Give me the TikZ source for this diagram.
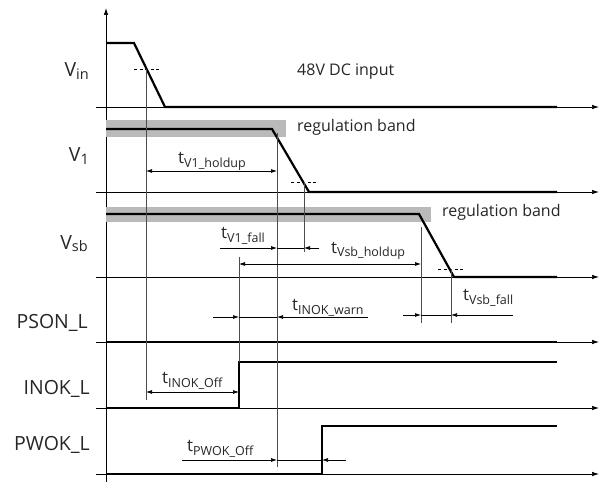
\documentclass[tikz,border=0pt]{standalone}
\usepackage{fontspec}
\setmainfont{Open Sans}
\usetikzlibrary{arrows.meta}
\newcommand\mysub[1]{\raisebox{-4pt}{\fontsize{12.5}{13}\selectfont #1}}
\newcommand\vsub[1]{\raisebox{-2.5pt}{\fontsize{14.5}{15}\selectfont #1}}
\tikzset{
  axisline/.style={line width=0.7pt, black, -{Latex[length=7pt,width=4.5pt]}},
  sig/.style={line width=2.2pt, black, line join=miter},
  guide/.style={line width=0.8pt, black!70},
  dashguide/.style={line width=0.7pt, black, dash pattern=on 3pt off 2.5pt},
  band/.style={fill=black!27, draw=none},
  dimline/.style={line width=0.7pt, black},
  tipr/.style={dimline, -{Latex[length=6pt,width=4pt]}},
  tipboth/.style={dimline, {Latex[length=6pt,width=4pt]}-{Latex[length=6pt,width=4pt]}},
  lbl/.style={anchor=base east, inner sep=0pt, text=black!85, font=\fontsize{19.5}{21}\selectfont},
  tlbl/.style={anchor=base west, inner sep=0pt, text=black!85, font=\fontsize{17}{19}\selectfont},
  note/.style={anchor=base west, inner sep=0pt, text=black!85, font=\fontsize{16}{18}\selectfont}
}
\begin{document}
\begin{tikzpicture}[x=1pt,y=-1pt]
\useasboundingbox (0,0) rectangle (603,484);
% main vertical axis
\coordinate (vbot) at (106,482);
\coordinate (vtop) at (106,8);
\draw[axisline] (vbot) -- (vtop);
% horizontal axes
\foreach \n/\y in {ain/107, aone/192, asb/277, apson/342, ainok/408, apwok/474}{
  \coordinate (\n s) at (96,\y);
  \coordinate (\n e) at (599,\y);
  \draw[axisline] (\n s) -- (\n e);
}
% regulation bands
\fill[band] (106,120) rectangle (286,137);
\fill[band] (106,207) rectangle (431,222);
% signals
\draw[sig] (106,43) -- (134,43) -- (165,107) -- (557,107);
\draw[sig] (106,129) -- (272,129) -- (309,192) -- (557,192);
\draw[sig] (106,214) -- (419,214) -- (454,277) -- (557,277);
\draw[sig] (106,342) -- (557,342);
\draw[sig] (106,408) -- (239,408) -- (239,362) -- (557,362);
\draw[sig] (106,474) -- (322,474) -- (322,426) -- (557,426);
% dashed threshold marks
\coordinate (d1a) at (134,69); \coordinate (d1b) at (159,69);
\coordinate (d2a) at (291,182); \coordinate (d2b) at (317,182);
\coordinate (d3a) at (438,269); \coordinate (d3b) at (463,269);
\draw[dashguide] (d1a) -- (d1b);
\draw[dashguide] (d2a) -- (d2b);
\draw[dashguide] (d3a) -- (d3b);
% guide lines
\coordinate (g1t) at (146,69);  \coordinate (g1b) at (146,400);
\coordinate (g2t) at (277,133); \coordinate (g2b) at (277,467);
\coordinate (g3t) at (304,182); \coordinate (g3b) at (304,252);
\coordinate (g4t) at (239,257); \coordinate (g4b) at (239,362);
\coordinate (g5t) at (421,227); \coordinate (g5b) at (421,323);
\coordinate (g6t) at (451,269); \coordinate (g6b) at (451,323);
\foreach \g in {g1,g2,g3,g4,g5,g6}{\draw[guide] (\g t) -- (\g b);}
% t_V1_holdup
\coordinate (h1a) at (146,171); \coordinate (h1b) at (277,171);
\draw[tipboth] (h1a) -- (h1b);
% t_V1_fall
\coordinate (f1a) at (220,248); \coordinate (f1b) at (277,248);
\coordinate (f1c) at (304,248); \coordinate (f1d) at (319,248);
\draw[tipr] (f1a) -- (f1b); \draw[dimline] (f1b) -- (f1c); \draw[tipr] (f1d) -- (f1c);
% t_Vsb_holdup
\coordinate (h2a) at (239,264); \coordinate (h2b) at (421,264);
\draw[tipboth] (h2a) -- (h2b);
% t_INOK_warn
\coordinate (w1a) at (213,317); \coordinate (w1b) at (239,317);
\coordinate (w1c) at (277,317); \coordinate (w1d) at (368,317);
\draw[tipr] (w1a) -- (w1b); \draw[dimline] (w1b) -- (w1c); \draw[tipr] (w1d) -- (w1c);
% t_Vsb_fall
\coordinate (f2a) at (403,315); \coordinate (f2b) at (421,315);
\coordinate (f2c) at (451,315); \coordinate (f2d) at (513,315);
\draw[tipr] (f2a) -- (f2b); \draw[dimline] (f2b) -- (f2c); \draw[tipr] (f2d) -- (f2c);
% t_INOK_Off
\coordinate (o1a) at (146,392); \coordinate (o1b) at (239,392);
\draw[tipboth] (o1a) -- (o1b);
% t_PWOK_Off
\coordinate (o2a) at (182,460); \coordinate (o2b) at (277,460);
\coordinate (o2c) at (322,460); \coordinate (o2d) at (346,460);
\draw[tipr] (o2a) -- (o2b); \draw[dimline] (o2b) -- (o2c); \draw[tipr] (o2d) -- (o2c);
% signal labels
\node[lbl] (lvin) at (89,77) {V\vsub{in}};
\node[lbl] (lv1) at (89,162) {V\vsub{1}};
\node[lbl] (lvsb) at (88,249) {V\vsub{sb}};
\node[lbl] (lpson) at (88,328) {PSON\_L};
\node[lbl] (linok) at (90,394) {INOK\_L};
\node[lbl] (lpwok) at (90,450) {PWOK\_L};
% notes
\node[note] (n48) at (297,76) {48V DC input};
\node[note] (nrb1) at (297,132) {regulation band};
\node[note] (nrb2) at (442,217) {regulation band};
% timing labels
\node[tlbl] (t1) at (178,164) {t\mysub{V1\_holdup}};
\node[tlbl] (t2) at (221,239) {t\mysub{V1\_fall}};
\node[tlbl] (t3) at (331,253) {t\mysub{Vsb\_holdup}};
\node[tlbl] (t4) at (292,310) {t\mysub{INOK\_warn}};
\node[tlbl] (t5) at (463,300) {t\mysub{Vsb\_fall}};
\node[tlbl] (t6) at (162,383) {t\mysub{INOK\_Off}};
\node[tlbl] (t7) at (187,451) {t\mysub{PWOK\_Off}};
\end{tikzpicture}
\end{document}
